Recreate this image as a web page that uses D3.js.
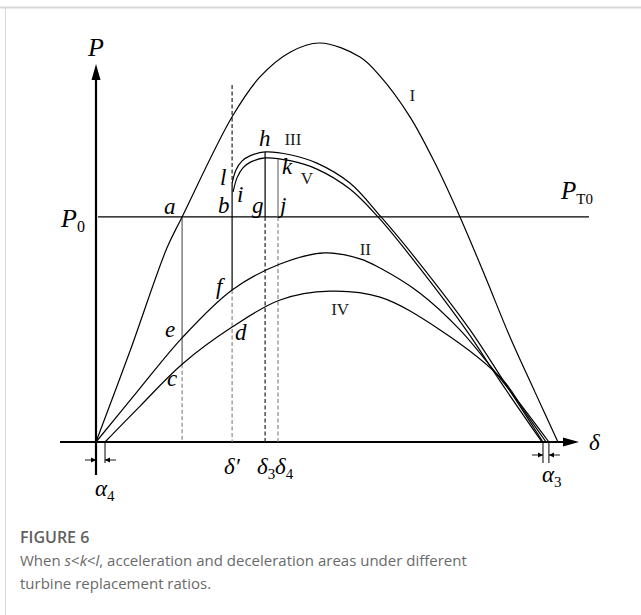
<!DOCTYPE html>
<html>
<head>
<meta charset="utf-8">
<script src="https://cdn.jsdelivr.net/npm/d3@7"></script>
<style>
  body { margin: 0; background: #fff; }
  svg { display: block; }
</style>
</head>
<body>
<svg id="fig" width="641" height="615"></svg>
<script>
// Power-angle curves, delta in degrees, P in per-unit of the pre-fault peak
const curveI   = [[0,0],[13.2,0.228],[27.5,0.486],[33.4,0.564],[52.8,0.815],[63.6,0.915],[75.3,0.977],[86.9,1.0],[102.4,0.965],[110.2,0.917],[121.8,0.815],[131.5,0.699],[141.2,0.564],[150.9,0.416],[160.6,0.263],[170.3,0.125],[179.2,0]];
const curveII  = [[0,0],[17.1,0.135],[33.4,0.261],[52.8,0.381],[71.4,0.446],[88.8,0.474],[102.4,0.459],[110.2,0.436],[125.7,0.373],[141.2,0.281],[156.7,0.160],[166.4,0.080],[175.7,0]];
const curveIII = [[52.8,0.649],[54.3,0.682],[56.6,0.704],[59.7,0.717],[65.6,0.727],[75.3,0.720],[85.7,0.699],[98.5,0.649],[110.6,0.564],[124.5,0.456],[145.1,0.281],[157.9,0.155],[173.4,0]];
const curveIV  = [[3.5,0],[17.1,0.090],[33.4,0.195],[52.8,0.288],[71.4,0.356],[90.8,0.378],[110.2,0.363],[133.5,0.281],[157.9,0.155],[166.4,0.075],[174.6,0]];
const curveV   = [[53.2,0.627],[54.7,0.662],[57.0,0.687],[60.1,0.702],[65.6,0.712],[75.3,0.705],[85.7,0.684],[98.5,0.634],[109.4,0.564],[123.4,0.454],[143.9,0.278],[156.7,0.153],[173.0,0]];

// Key operating values
const P0 = 0.564;          // mechanical power P0 / PT0
const deltaA = 33.4;       // angle at point a
const deltaPrime = 52.8;   // delta'
const delta3 = 65.6;       // delta_3
const delta4 = 70.6;       // delta_4
const alpha4 = [0, 3.5];
const alpha3 = [173.4, 175.7];

const curveLabels = [
  {t: "I",   d: 122.7, p: 0.855},
  {t: "III", d: 76.4,  p: 0.745},
  {t: "V",   d: 81.8,  p: 0.647},
  {t: "II",  d: 104.5, p: 0.469},
  {t: "IV",  d: 94.7,  p: 0.318}
];

const svg = d3.select("#fig");
const x = d3.scaleLinear().domain([0, 180]).range([96, 560]);
const y = d3.scaleLinear().domain([0, 1]).range([442, 43]);

// frame of the figure panel
svg.append("line").attr("x1", 0).attr("x2", 641).attr("y1", 7.5).attr("y2", 7.5)
  .attr("stroke", "#d8d8d8").attr("stroke-width", 2);
svg.append("line").attr("x1", 5.5).attr("x2", 5.5).attr("y1", 7).attr("y2", 615)
  .attr("stroke", "#d8d8d8").attr("stroke-width", 1);

const g = svg.append("g");

// value of a curve at a given angle (linear between read points)
function at(curve, d) {
  for (let i = 1; i < curve.length; i++) {
    if (curve[i][0] >= d) {
      const [d0, p0] = curve[i - 1], [d1, p1] = curve[i];
      return p0 + (p1 - p0) * (d - d0) / (d1 - d0);
    }
  }
  return curve[curve.length - 1][1];
}

// axes
g.append("line").attr("x1", x(0)).attr("x2", x(0)).attr("y1", 475).attr("y2", 78)
  .attr("stroke", "#000").attr("stroke-width", 2.2);
g.append("path").attr("d", `M${x(0)},64 L${x(0) - 4.5},80 L${x(0) + 4.5},80 Z`).attr("fill", "#000");
g.append("line").attr("x1", 60).attr("x2", 566).attr("y1", y(0)).attr("y2", y(0))
  .attr("stroke", "#000").attr("stroke-width", 2.2);
g.append("path").attr("d", `M579,${y(0)} L563,${y(0) - 4.5} L563,${y(0) + 4.5} Z`).attr("fill", "#000");

// P0 line
g.append("line").attr("x1", 98).attr("x2", 589).attr("y1", y(P0)).attr("y2", y(P0))
  .attr("stroke", "#000").attr("stroke-width", 1.3);

// vertical construction lines
function seg(d, p1, p2, color, dashed, w) {
  g.append("line").attr("x1", x(d)).attr("x2", x(d)).attr("y1", y(p1)).attr("y2", y(p2))
    .attr("stroke", color).attr("stroke-width", w || 1.2)
    .attr("stroke-dasharray", dashed ? "4,2.5" : null);
}
const pc = at(curveIV, deltaA);
seg(deltaA, P0, pc, "#777", false, 1.4);
seg(deltaA, pc, 0, "#888", true);
const pl = curveIII[0][1];
const pf = at(curveII, deltaPrime);
seg(deltaPrime, 0.895, pl, "#222", true);
seg(deltaPrime, pl, pf, "#000", false);
seg(deltaPrime, pf, 0, "#888", true);
const ph = at(curveIII, delta3);
seg(delta3, ph, P0, "#000", false);
seg(delta3, P0, 0, "#222", true);
const pk = at(curveV, delta4);
seg(delta4, pk, P0, "#888", false, 1.4);
seg(delta4, P0, 0, "#888", true);

// curves
const line = d3.line().x(d => x(d[0])).y(d => y(d[1])).curve(d3.curveCatmullRom.alpha(0.5));
[curveI, curveII, curveIII, curveIV, curveV].forEach(c => {
  g.append("path").attr("d", line(c)).attr("fill", "none")
    .attr("stroke", "#000").attr("stroke-width", 1.2);
});

// alpha offset markers under the axis
function offsetMark(a, b, yy, bottom) {
  g.append("line").attr("x1", x(b)).attr("x2", x(b)).attr("y1", y(0)).attr("y2", bottom)
    .attr("stroke", "#000").attr("stroke-width", 1);
  if (a > 0) g.append("line").attr("x1", x(a)).attr("x2", x(a)).attr("y1", y(0)).attr("y2", bottom)
    .attr("stroke", "#000").attr("stroke-width", 1);
  const xa = x(a), xb = x(b);
  g.append("line").attr("x1", xa - 11).attr("x2", xa).attr("y1", yy).attr("y2", yy).attr("stroke", "#000").attr("stroke-width", 0.9);
  g.append("path").attr("d", `M${xa},${yy} L${xa - 5},${yy - 2.5} L${xa - 5},${yy + 2.5} Z`).attr("fill", "#000");
  g.append("line").attr("x1", xb).attr("x2", xb + 11).attr("y1", yy).attr("y2", yy).attr("stroke", "#000").attr("stroke-width", 0.9);
  g.append("path").attr("d", `M${xb},${yy} L${xb + 5},${yy - 2.5} L${xb + 5},${yy + 2.5} Z`).attr("fill", "#000");
}
offsetMark(alpha4[0], alpha4[1], 460, 463);
offsetMark(alpha3[0], alpha3[1], 455, 463);

// text
const serif = "'Liberation Serif', 'Times New Roman', serif";
function it(tx, px, py, size, sub, subSize, subUpright) {
  const t = g.append("text").attr("x", px).attr("y", py)
    .attr("font-family", serif).attr("font-size", size).attr("font-style", "italic").text(tx);
  if (sub) t.append("tspan").attr("dy", 5).attr("font-size", subSize)
    .attr("font-style", subUpright ? "normal" : "italic").text(sub);
  return t;
}
it("P", 88, 56, 26);
it("P", 61, 227, 26, "0", 16, true);
it("P", 561, 199, 25, "T0", 15, true);
it("δ", 589, 450, 23);
it("α", 95, 496, 23, "4", 15, true);
it("α", 542, 482, 23, "3", 15, true);
it("δ′", 224, 474, 23);
it("δ", 257, 474, 23, "3", 15, true);
it("δ", 275, 474, 23, "4", 15, true);

const pts = [
  ["a", x(deltaA) - 18, y(P0) - 3],
  ["b", x(deltaPrime) - 14, y(P0) - 4],
  ["i", x(deltaPrime) + 5, y(P0) - 15],
  ["g", x(delta3) - 13, y(P0) - 4],
  ["j", x(delta4) + 2, y(P0) - 4],
  ["l", x(deltaPrime) - 12, y(pl) + 2],
  ["h", x(delta3) - 6, y(ph) - 6],
  ["k", x(delta4) + 4, y(pk) + 15],
  ["e", x(deltaA) - 17, y(at(curveII, deltaA)) - 1],
  ["c", x(deltaA) - 15, y(pc) + 22],
  ["f", x(deltaPrime) - 16, y(pf) + 4],
  ["d", x(deltaPrime) + 3, y(at(curveIV, deltaPrime)) + 13]
];
pts.forEach(p => it(p[0], p[1], p[2], 23));

curveLabels.forEach(l => {
  g.append("text").attr("x", x(l.d)).attr("y", y(l.p)).attr("text-anchor", "middle")
    .attr("font-family", serif).attr("font-size", 17).attr("fill", "#222").text(l.t);
});

// caption
const cap = svg.append("g").attr("font-family", "'Open Sans', 'Noto Sans', sans-serif").attr("fill", "#6a6a6a");
cap.append("text").attr("x", 20).attr("y", 543).attr("font-size", 16).attr("font-weight", 600)
  .attr("fill", "#5f5f5f").text("FIGURE 6");
const l1 = cap.append("text").attr("x", 20).attr("y", 566).attr("font-size", 15);
l1.append("tspan").text("When ");
l1.append("tspan").attr("font-style", "italic").text("s");
l1.append("tspan").text("<");
l1.append("tspan").attr("font-style", "italic").text("k");
l1.append("tspan").text("<");
l1.append("tspan").attr("font-style", "italic").text("l");
l1.append("tspan").text(", acceleration and deceleration areas under different");
cap.append("text").attr("x", 20).attr("y", 589).attr("font-size", 15).text("turbine replacement ratios.");
</script>
</body>
</html>
